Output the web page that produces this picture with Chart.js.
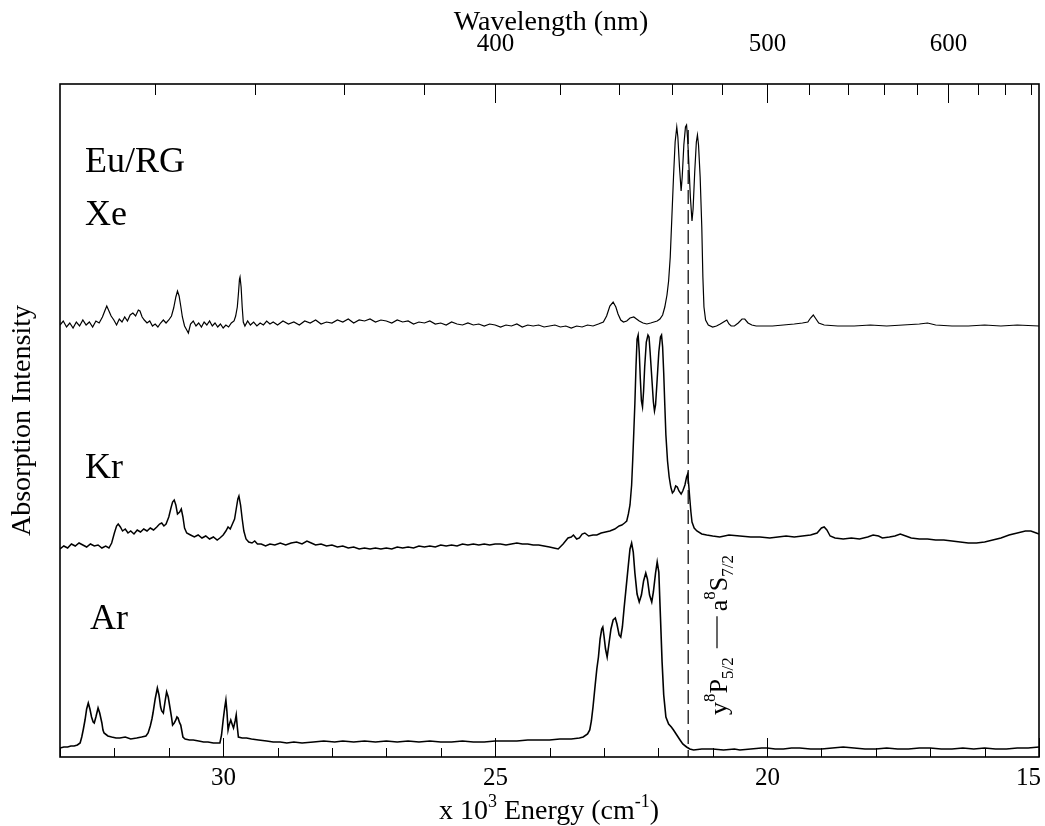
<!DOCTYPE html>
<html>
<head>
<meta charset="utf-8">
<script src="https://cdn.jsdelivr.net/npm/chart.js@4.4.0/dist/chart.umd.min.js"></script>
<style>
  html, body { margin: 0; padding: 0; background: #fff; }
  canvas { display: block; }
</style>
</head>
<body>
<canvas id="graficoEspectro" width="1045" height="826"></canvas>
<script>
// energia em 10^3 cm-1, intensidade em unidades arbitrárias (curvas deslocadas)
const xeEnergia = [33.00, 32.94, 32.88, 32.82, 32.76, 32.70, 32.64, 32.58, 32.52, 32.46, 32.40, 32.34, 32.28, 32.22, 32.17, 32.14, 32.10, 32.06, 32.01, 31.96, 31.91, 31.86, 31.81, 31.76, 31.71, 31.66, 31.61, 31.56, 31.53, 31.49, 31.45, 31.40, 31.35, 31.30, 31.25, 31.20, 31.15, 31.10, 31.05, 31.00, 30.95, 30.91, 30.87, 30.84, 30.81, 30.78, 30.75, 30.71, 30.67, 30.64, 30.60, 30.55, 30.50, 30.45, 30.40, 30.35, 30.30, 30.25, 30.20, 30.15, 30.10, 30.05, 30.00, 29.95, 29.90, 29.85, 29.80, 29.77, 29.74, 29.72, 29.70, 29.69, 29.67, 29.65, 29.63, 29.60, 29.55, 29.50, 29.44, 29.38, 29.32, 29.26, 29.20, 29.14, 29.08, 29.00, 28.90, 28.80, 28.70, 28.60, 28.50, 28.40, 28.30, 28.20, 28.10, 28.00, 27.90, 27.80, 27.70, 27.60, 27.50, 27.40, 27.30, 27.20, 27.10, 27.00, 26.90, 26.80, 26.70, 26.60, 26.50, 26.40, 26.30, 26.20, 26.10, 26.00, 25.90, 25.80, 25.70, 25.60, 25.50, 25.40, 25.30, 25.20, 25.10, 25.00, 24.90, 24.80, 24.70, 24.60, 24.50, 24.40, 24.30, 24.20, 24.10, 24.00, 23.90, 23.80, 23.70, 23.60, 23.50, 23.40, 23.30, 23.20, 23.10, 23.01, 22.95, 22.89, 22.83, 22.78, 22.74, 22.69, 22.64, 22.58, 22.52, 22.45, 22.40, 22.35, 22.28, 22.21, 22.14, 22.08, 22.02, 21.97, 21.92, 21.88, 21.84, 21.81, 21.78, 21.75, 21.72, 21.69, 21.66, 21.64, 21.61, 21.58, 21.56, 21.53, 21.50, 21.48, 21.46, 21.44, 21.41, 21.38, 21.36, 21.33, 21.30, 21.28, 21.26, 21.23, 21.20, 21.18, 21.16, 21.13, 21.08, 21.00, 20.93, 20.86, 20.80, 20.74, 20.70, 20.66, 20.60, 20.53, 20.46, 20.41, 20.35, 20.28, 20.20, 20.10, 19.90, 19.70, 19.50, 19.35, 19.25, 19.20, 19.15, 19.10, 19.05, 18.95, 18.70, 18.40, 18.10, 17.80, 17.50, 17.20, 17.05, 16.90, 16.60, 16.30, 16.00, 15.70, 15.40, 15.00];
const xeIntensidade = [432, 436, 430, 434, 429, 435, 431, 437, 432, 435, 430, 436, 434, 440, 447, 451, 446, 441, 437, 432, 438, 435, 440, 436, 442, 444, 441, 447, 446, 440, 437, 434, 436, 431, 433, 430, 434, 437, 434, 437, 441, 449, 460, 466, 461, 451, 440, 431, 427, 424, 433, 436, 431, 434, 430, 435, 432, 436, 431, 434, 430, 433, 429, 432, 430, 434, 436, 441, 450, 463, 478, 480, 470, 450, 435, 431, 436, 432, 435, 431, 434, 432, 436, 433, 435, 432, 436, 433, 435, 432, 436, 434, 437, 433, 435, 434, 437, 435, 438, 434, 437, 436, 438, 435, 437, 436, 434, 437, 435, 436, 433, 435, 434, 436, 433, 434, 432, 435, 433, 432, 434, 432, 433, 431, 433, 432, 430, 432, 431, 433, 430, 432, 431, 432, 430, 431, 432, 430, 431, 429, 431, 430, 432, 431, 433, 435, 441, 451, 455, 450, 443, 437, 435, 436, 439, 440, 438, 436, 434, 433, 434, 435, 436, 438, 442, 450, 462, 476, 500, 540, 580, 615, 630, 620, 590, 566, 580, 612, 630, 632, 618, 596, 560, 536, 548, 585, 615, 622, 612, 580, 530, 480, 450, 437, 432, 430, 431, 433, 435, 437, 433, 431, 431, 434, 438, 438, 434, 432, 431, 431, 431, 432, 433, 434, 435, 439, 442, 438, 434, 432, 431, 431, 432, 431, 432, 433, 434, 432, 431, 431, 432, 431, 432, 431];

const krEnergia = [33.00, 32.93, 32.86, 32.79, 32.72, 32.65, 32.58, 32.51, 32.44, 32.37, 32.30, 32.23, 32.16, 32.10, 32.05, 32.00, 31.96, 31.93, 31.89, 31.85, 31.80, 31.75, 31.70, 31.64, 31.58, 31.52, 31.46, 31.40, 31.34, 31.28, 31.22, 31.17, 31.13, 31.09, 31.05, 31.00, 30.96, 30.93, 30.90, 30.87, 30.84, 30.80, 30.77, 30.74, 30.71, 30.67, 30.60, 30.53, 30.46, 30.39, 30.32, 30.25, 30.18, 30.11, 30.06, 30.00, 29.95, 29.91, 29.87, 29.83, 29.79, 29.76, 29.73, 29.71, 29.68, 29.65, 29.62, 29.58, 29.53, 29.47, 29.42, 29.37, 29.30, 29.22, 29.14, 29.05, 28.95, 28.85, 28.75, 28.65, 28.55, 28.46, 28.38, 28.30, 28.20, 28.10, 28.00, 27.90, 27.80, 27.70, 27.60, 27.50, 27.40, 27.30, 27.20, 27.10, 27.00, 26.90, 26.80, 26.70, 26.60, 26.50, 26.40, 26.30, 26.20, 26.10, 26.00, 25.90, 25.80, 25.70, 25.60, 25.50, 25.40, 25.30, 25.20, 25.10, 25.00, 24.90, 24.80, 24.70, 24.60, 24.50, 24.40, 24.30, 24.20, 24.10, 24.00, 23.92, 23.84, 23.75, 23.66, 23.60, 23.56, 23.50, 23.45, 23.40, 23.35, 23.28, 23.20, 23.13, 23.05, 22.97, 22.89, 22.80, 22.72, 22.67, 22.62, 22.58, 22.55, 22.52, 22.49, 22.47, 22.45, 22.43, 22.41, 22.39, 22.37, 22.35, 22.33, 22.31, 22.29, 22.27, 22.25, 22.22, 22.19, 22.17, 22.15, 22.12, 22.09, 22.07, 22.05, 22.02, 21.99, 21.96, 21.94, 21.92, 21.90, 21.88, 21.86, 21.83, 21.80, 21.77, 21.74, 21.71, 21.68, 21.65, 21.62, 21.58, 21.55, 21.51, 21.48, 21.46, 21.44, 21.42, 21.40, 21.38, 21.34, 21.29, 21.20, 21.11, 21.00, 20.87, 20.70, 20.50, 20.30, 20.13, 19.95, 19.80, 19.65, 19.50, 19.35, 19.20, 19.08, 19.00, 18.95, 18.90, 18.84, 18.75, 18.60, 18.45, 18.30, 18.15, 18.05, 17.95, 17.88, 17.75, 17.65, 17.55, 17.45, 17.35, 17.20, 17.05, 16.90, 16.75, 16.60, 16.45, 16.30, 16.15, 16.00, 15.85, 15.70, 15.55, 15.40, 15.25, 15.15, 15.05, 15.00];
const krIntensidade = [208, 211, 209, 213, 211, 214, 212, 210, 213, 211, 212, 209, 211, 209, 214, 224, 231, 233, 230, 226, 228, 224, 226, 223, 227, 225, 228, 226, 229, 227, 230, 233, 234, 231, 233, 240, 249, 255, 257, 252, 243, 245, 248, 240, 229, 224, 222, 220, 222, 219, 221, 218, 220, 217, 219, 222, 226, 230, 228, 233, 238, 248, 258, 261, 252, 238, 226, 218, 215, 214, 216, 213, 213, 211, 213, 212, 214, 212, 214, 215, 213, 216, 214, 212, 213, 211, 212, 210, 211, 209, 210, 208, 209, 208, 209, 208, 209, 208, 210, 209, 210, 209, 211, 210, 211, 210, 212, 211, 212, 211, 213, 212, 213, 212, 213, 212, 213, 213, 212, 213, 214, 213, 213, 212, 212, 211, 210, 209, 208, 213, 219, 220, 222, 218, 219, 223, 224, 221, 222, 222, 224, 225, 226, 228, 231, 232, 234, 236, 243, 252, 272, 297, 325, 354, 390, 418, 422, 405, 378, 356, 350, 366, 390, 415, 422, 420, 405, 380, 355, 346, 352, 378, 405, 420, 422, 410, 384, 352, 322, 296, 280, 270, 264, 266, 271, 270, 266, 263, 266, 272, 280, 283, 272, 258, 245, 235, 229, 226, 223, 222, 221, 220, 222, 221, 220, 220, 219, 220, 221, 220, 221, 222, 224, 229, 230, 227, 221, 219, 218, 219, 218, 220, 222, 221, 219, 220, 221, 223, 221, 219, 218, 218, 217, 217, 216, 215, 214, 214, 215, 217, 219, 222, 224, 226, 226, 224, 223];

const arEnergia = [33.00, 32.93, 32.86, 32.80, 32.74, 32.68, 32.63, 32.60, 32.57, 32.54, 32.51, 32.48, 32.45, 32.42, 32.39, 32.37, 32.34, 32.30, 32.27, 32.23, 32.21, 32.19, 32.12, 32.05, 31.97, 31.90, 31.80, 31.70, 31.59, 31.50, 31.42, 31.38, 31.34, 31.31, 31.29, 31.25, 31.21, 31.18, 31.15, 31.13, 31.10, 31.07, 31.04, 31.01, 30.98, 30.95, 30.93, 30.90, 30.87, 30.85, 30.83, 30.80, 30.78, 30.76, 30.74, 30.70, 30.62, 30.55, 30.45, 30.36, 30.28, 30.18, 30.10, 30.06, 30.03, 30.00, 29.97, 29.95, 29.93, 29.91, 29.89, 29.86, 29.83, 29.81, 29.78, 29.76, 29.74, 29.72, 29.65, 29.57, 29.48, 29.35, 29.20, 29.08, 28.95, 28.83, 28.70, 28.55, 28.34, 28.15, 27.95, 27.80, 27.60, 27.40, 27.20, 27.00, 26.80, 26.60, 26.40, 26.20, 26.00, 25.80, 25.60, 25.40, 25.20, 25.00, 24.80, 24.60, 24.40, 24.17, 24.00, 23.81, 23.60, 23.45, 23.38, 23.30, 23.26, 23.23, 23.20, 23.16, 23.13, 23.10, 23.07, 23.04, 23.02, 23.00, 22.97, 22.94, 22.91, 22.87, 22.83, 22.79, 22.76, 22.72, 22.69, 22.66, 22.63, 22.59, 22.55, 22.52, 22.49, 22.46, 22.43, 22.39, 22.35, 22.31, 22.27, 22.23, 22.20, 22.16, 22.12, 22.09, 22.05, 22.02, 21.99, 21.96, 21.93, 21.90, 21.86, 21.81, 21.76, 21.72, 21.66, 21.60, 21.55, 21.48, 21.42, 21.35, 21.20, 21.00, 20.80, 20.60, 20.50, 20.30, 20.10, 20.00, 19.85, 19.70, 19.55, 19.40, 19.20, 19.00, 18.80, 18.60, 18.40, 18.20, 18.00, 17.80, 17.60, 17.40, 17.20, 17.00, 16.80, 16.60, 16.40, 16.20, 16.00, 15.80, 15.60, 15.40, 15.20, 15.00];
const arIntensidade = [9, 10, 10, 11, 11, 12, 14, 20, 28, 37, 48, 54, 48, 40, 35, 34, 40, 49, 44, 34, 27, 24, 21, 20, 19, 19, 20, 18, 19, 20, 21, 24, 31, 38, 44, 58, 69, 62, 50, 46, 44, 55, 65, 60, 50, 40, 32, 34, 37, 40, 39, 34, 32, 26, 20, 18, 17, 17, 16, 15, 15, 14, 14, 14, 22, 37, 50, 57, 45, 27, 32, 37, 32, 29, 36, 42, 30, 20, 19, 19, 18, 17, 16, 15, 15, 14, 15, 14, 15, 16, 15, 16, 15, 16, 15, 16, 15, 16, 15, 16, 15, 15, 16, 15, 15, 16, 16, 16, 17, 17, 17, 18, 18, 19, 20, 23, 27, 36, 50, 72, 88, 100, 118, 128, 130, 122, 108, 100, 112, 128, 137, 139, 133, 122, 120, 130, 148, 170, 192, 208, 214, 205, 184, 163, 155, 162, 176, 184, 178, 162, 155, 165, 184, 195, 185, 140, 95, 62, 40, 33, 30, 27, 22, 17, 13, 10, 8, 7, 8, 8, 7, 8, 7, 8, 9, 9, 8, 8, 9, 9, 8, 8, 9, 10, 9, 8, 8, 9, 8, 8, 9, 9, 8, 8, 9, 8, 9, 8, 8, 9, 9, 10];

// linha atômica y8P5/2 - a8S7/2 (tracejada)
const linhaAtomica = 21.45;
const linhaTopo = 627;

// ticks dos eixos
const ticksEnergia = [15, 16, 17, 18, 19, 20, 21, 22, 23, 24, 25, 26, 27, 28, 29, 30, 31, 32, 33];
const ticksComprimento = [320, 340, 360, 380, 400, 420, 440, 460, 480, 500, 520, 540, 560, 580, 600, 620, 640, 660];
const rotulosComprimento = [400, 500, 600];

const fonteSerif = "'Liberation Serif', 'Times New Roman', serif";

function montarPontos(energias, valores) {
    return energias.map((e, i) => ({ x: e, y: valores[i] }));
}

// desenha texto com partes em sobrescrito / subscrito
function textoComposto(ctx, partes, x, y) {
    let pos = x;
    partes.forEach(p => {
        ctx.font = p.tam + 'px ' + fonteSerif;
        ctx.fillText(p.t, pos, y + (p.dy || 0));
        pos += ctx.measureText(p.t).width + (p.gap || 0);
    });
    return pos;
}

function larguraComposta(ctx, partes) {
    let w = 0;
    partes.forEach(p => {
        ctx.font = p.tam + 'px ' + fonteSerif;
        w += ctx.measureText(p.t).width + (p.gap || 0);
    });
    return w;
}

const eixosPlugin = {
    id: 'eixos',
    afterDraw(chart) {
        const ctx = chart.ctx;
        const area = chart.chartArea;
        const escalaX = chart.scales.x;
        ctx.save();
        ctx.strokeStyle = '#000';
        ctx.fillStyle = '#000';

        // moldura
        ctx.lineWidth = 1.6;
        ctx.strokeRect(area.left, area.top, area.right - area.left, area.bottom - area.top);

        // ticks de baixo (energia)
        ctx.lineWidth = 1;
        ctx.font = '25px ' + fonteSerif;
        ctx.textBaseline = 'alphabetic';
        ticksEnergia.forEach(e => {
            const px = Math.round(escalaX.getPixelForValue(e)) + 0.5;
            const maior = e % 5 === 0;
            ctx.beginPath();
            ctx.moveTo(px, area.bottom);
            ctx.lineTo(px, area.bottom - (maior ? 19 : 9));
            ctx.stroke();
            if (maior) {
                // o último rótulo fica encostado na borda
                if (e === 15) {
                    ctx.textAlign = 'right';
                    ctx.fillText(String(e), area.right + 2, 785);
                } else {
                    ctx.textAlign = 'center';
                    ctx.fillText(String(e), px, 785);
                }
            }
        });

        // ticks de cima (comprimento de onda)
        ctx.textAlign = 'center';
        ticksComprimento.forEach(nm => {
            const px = Math.round(escalaX.getPixelForValue(1e4 / nm)) + 0.5;
            const maior = rotulosComprimento.includes(nm);
            ctx.beginPath();
            ctx.moveTo(px, area.top);
            ctx.lineTo(px, area.top + (maior ? 19 : 11));
            ctx.stroke();
            if (maior) ctx.fillText(String(nm), px, 51);
        });

        // titulos
        ctx.font = '28px ' + fonteSerif;
        ctx.fillText('Wavelength (nm)', 551, 30);

        ctx.textAlign = 'left';
        const tituloX = [
            { t: 'x 10', tam: 28 },
            { t: '3', tam: 18, dy: -12 },
            { t: ' Energy (cm', tam: 28 },
            { t: '-1', tam: 18, dy: -12 },
            { t: ')', tam: 28 }
        ];
        const wX = larguraComposta(ctx, tituloX);
        textoComposto(ctx, tituloX, 549 - wX / 2, 819);

        ctx.save();
        ctx.translate(30, (area.top + area.bottom) / 2);
        ctx.rotate(-Math.PI / 2);
        ctx.textAlign = 'center';
        ctx.font = '28px ' + fonteSerif;
        ctx.fillText('Absorption Intensity', 0, 0);
        ctx.restore();

        // nomes das matrizes
        ctx.font = '36px ' + fonteSerif;
        ctx.fillText('Eu/RG', 85, 172);
        ctx.fillText('Xe', 85, 225);
        ctx.fillText('Kr', 85, 478);
        ctx.fillText('Ar', 90, 629);

        // anotação da transição, girada
        ctx.save();
        ctx.translate(727, 715);
        ctx.rotate(-Math.PI / 2);
        let pos = textoComposto(ctx, [
            { t: 'y', tam: 26 },
            { t: '8', tam: 17, dy: -12 },
            { t: 'P', tam: 26 },
            { t: '5/2', tam: 17, dy: 6 }
        ], 0, 0);
        ctx.lineWidth = 1.2;
        ctx.beginPath();
        ctx.moveTo(pos + 9, -10);
        ctx.lineTo(pos + 41, -10);
        ctx.stroke();
        textoComposto(ctx, [
            { t: 'a', tam: 26 },
            { t: '8', tam: 17, dy: -12 },
            { t: 'S', tam: 26 },
            { t: '7/2', tam: 17, dy: 6 }
        ], pos + 46, 0);
        ctx.restore();

        ctx.restore();
    }
};

const estiloLinha = { borderColor: '#000', pointRadius: 0, tension: 0, fill: false };

const config = {
    type: 'line',
    data: {
        datasets: [
            { label: 'Xe', data: montarPontos(xeEnergia, xeIntensidade), borderWidth: 1.2, ...estiloLinha },
            { label: 'Kr', data: montarPontos(krEnergia, krIntensidade), borderWidth: 1.5, ...estiloLinha },
            { label: 'Ar', data: montarPontos(arEnergia, arIntensidade), borderWidth: 1.6, ...estiloLinha },
            {
                label: 'linha',
                data: [{ x: linhaAtomica, y: linhaTopo }, { x: linhaAtomica, y: 0 }],
                borderWidth: 1.2,
                borderDash: [14, 6],
                ...estiloLinha
            }
        ]
    },
    options: {
        responsive: false,
        animation: false,
        devicePixelRatio: 1,
        layout: { padding: { left: 60, right: 6, top: 84, bottom: 69 } },
        plugins: { legend: { display: false }, tooltip: { enabled: false } },
        scales: {
            x: { type: 'linear', reverse: true, min: 15, max: 33, display: false },
            y: { type: 'linear', min: 0, max: 673, display: false }
        }
    },
    plugins: [eixosPlugin]
};

new Chart(document.getElementById('graficoEspectro'), config);
</script>
</body>
</html>
